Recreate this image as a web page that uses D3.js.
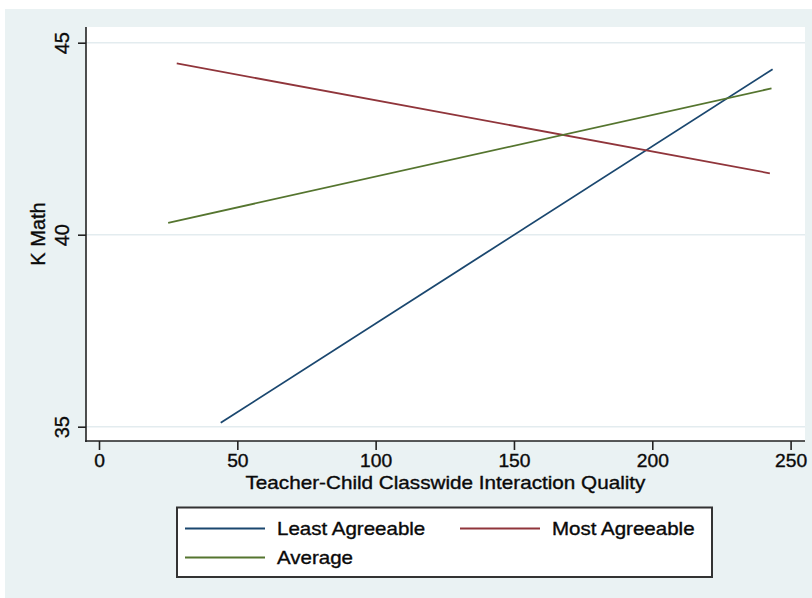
<!DOCTYPE html>
<html>
<head>
<meta charset="utf-8">
<script src="https://cdn.jsdelivr.net/npm/d3@7"></script>
<style>
  html, body { margin: 0; padding: 0; background: #ffffff; }
  svg { display: block; }
  text { font-family: "Liberation Sans", Arial, sans-serif; fill: #0a0a0a; stroke: #0a0a0a; stroke-width: 0.35px; }
</style>
</head>
<body>
<svg id="chart" width="812" height="598"></svg>
<script>
// Predicted K math scores across classwide interaction quality, by agreeableness group
const seriesNames = ["Least Agreeable", "Most Agreeable", "Average"];
const seriesColors = ["#1a476f", "#90353b", "#55752f"];
const leastX = [44.0, 243.5];
const leastY = [35.10, 44.31];
const mostX = [28.1, 242.5];
const mostY = [44.46, 41.60];
const averageX = [25.0, 243.1];
const averageY = [40.31, 43.81];
const xTicks = [0, 50, 100, 150, 200, 250];
const yTicks = [35, 40, 45];
const xTitle = "Teacher-Child Classwide Interaction Quality";
const yTitle = "K Math";

const svg = d3.select("#chart");

// layout
const outer = { x: 5, y: 9, w: 807, h: 589 };
const plot = { left: 86, right: 805, top: 27, bottom: 441 };

const x = d3.scaleLinear().domain([0, 250]).range([99, 790.6]);
const y = d3.scaleLinear().domain([35, 45]).range([426.7, 42.7]);

// horizontal text stretched about its own anchor point
const stretch = (cx, sx) => `translate(${cx},0) scale(${sx},1) translate(${-cx},0)`;

// graph background
svg.append("rect")
  .attr("x", outer.x).attr("y", outer.y)
  .attr("width", outer.w).attr("height", outer.h)
  .attr("fill", "#eaf2f3");

// plot region
svg.append("rect")
  .attr("x", plot.left).attr("y", plot.top)
  .attr("width", plot.right - plot.left).attr("height", plot.bottom - plot.top)
  .attr("fill", "#ffffff");

// horizontal gridlines
svg.append("g").selectAll("line")
  .data(yTicks)
  .join("line")
  .attr("x1", plot.left).attr("x2", plot.right)
  .attr("y1", d => y(d)).attr("y2", d => y(d))
  .attr("stroke", "#e3ecef")
  .attr("stroke-width", 1.5);

// y axis
const yAxis = svg.append("g")
  .attr("transform", `translate(${plot.left},0)`)
  .call(d3.axisLeft(y).tickValues(yTicks).tickSize(8).tickPadding(0).tickFormat(d3.format("d")));
yAxis.select(".domain").remove();
yAxis.append("line")
  .attr("x1", 0).attr("x2", 0)
  .attr("y1", plot.top).attr("y2", plot.bottom + 1)
  .attr("stroke", "#222").attr("stroke-width", 1.6);
yAxis.selectAll(".tick line").attr("stroke", "#222").attr("stroke-width", 1.6);
yAxis.selectAll(".tick text")
  .attr("x", null).attr("dy", null)
  .attr("font-size", 20)
  .attr("text-anchor", "middle")
  .attr("transform", "translate(-17,0) rotate(-90)")
  .attr("fill", null);

// x axis
const xAxis = svg.append("g")
  .attr("transform", `translate(0,${plot.bottom})`)
  .call(d3.axisBottom(x).tickValues(xTicks).tickSize(9).tickPadding(0).tickFormat(d3.format("d")));
xAxis.select(".domain").remove();
xAxis.append("line")
  .attr("x1", plot.left - 1).attr("x2", plot.right)
  .attr("y1", 0).attr("y2", 0)
  .attr("stroke", "#222").attr("stroke-width", 1.6);
xAxis.selectAll(".tick line").attr("stroke", "#222").attr("stroke-width", 1.6);
xAxis.selectAll(".tick text")
  .attr("y", null).attr("dy", null)
  .attr("font-size", 17.5)
  .attr("text-anchor", "middle")
  .attr("transform", "translate(0,26) scale(1.1,1)")
  .attr("fill", null);

// axis titles
const xMid = (plot.left + plot.right) / 2;
svg.append("text")
  .attr("x", xMid)
  .attr("y", 489)
  .attr("text-anchor", "middle")
  .attr("font-size", 18)
  .attr("transform", stretch(xMid, 1.15))
  .text(xTitle);

svg.append("text")
  .attr("transform", `translate(45,${(plot.top + plot.bottom) / 2}) rotate(-90)`)
  .attr("text-anchor", "middle")
  .attr("font-size", 20)
  .text(yTitle);

// series lines
const series = [
  { name: seriesNames[0], color: seriesColors[0], xs: leastX, ys: leastY },
  { name: seriesNames[1], color: seriesColors[1], xs: mostX, ys: mostY },
  { name: seriesNames[2], color: seriesColors[2], xs: averageX, ys: averageY }
];
const line = d3.line().x(d => x(d[0])).y(d => y(d[1]));
svg.append("g").selectAll("path")
  .data(series)
  .join("path")
  .attr("d", s => line(s.xs.map((v, i) => [v, s.ys[i]])))
  .attr("fill", "none")
  .attr("stroke", s => s.color)
  .attr("stroke-width", 1.8);

// legend
const legend = svg.append("g");
legend.append("rect")
  .attr("x", 177).attr("y", 507.5)
  .attr("width", 535).attr("height", 69.5)
  .attr("fill", "#ffffff")
  .attr("stroke", "#333")
  .attr("stroke-width", 2);
const legendPos = [
  { lx: 185, ty: 528.5 },
  { lx: 460, ty: 528.5 },
  { lx: 185, ty: 557.5 }
];
series.forEach((s, i) => {
  const p = legendPos[i];
  legend.append("line")
    .attr("x1", p.lx).attr("x2", p.lx + 80)
    .attr("y1", p.ty).attr("y2", p.ty)
    .attr("stroke", s.color).attr("stroke-width", 1.8);
  const tx = p.lx + 92;
  legend.append("text")
    .attr("x", tx).attr("y", p.ty + 6.5)
    .attr("font-size", 18)
    .attr("transform", stretch(tx, 1.14))
    .text(s.name);
});
</script>
</body>
</html>
